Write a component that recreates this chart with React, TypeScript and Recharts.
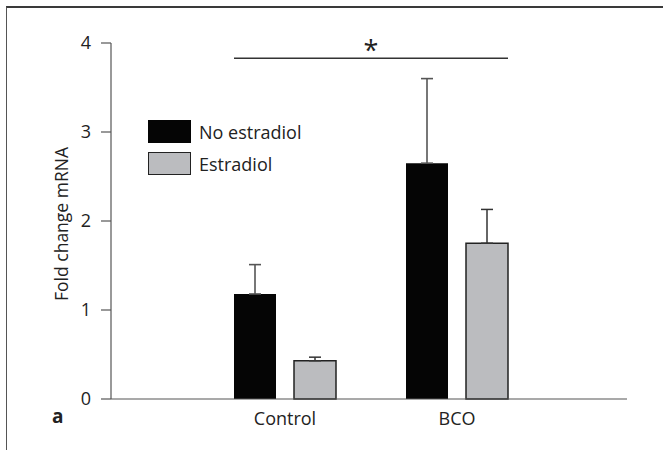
import { BarChart, Bar, XAxis, YAxis, ErrorBar, Legend, ReferenceLine, Label } from 'recharts';

const groups = ['Control', 'BCO'];
const noEstradiol = [1.18, 2.65];
const noEstradiolErr = [0.33, 0.95];
const estradiol = [0.43, 1.75];
const estradiolErr = [0.04, 0.38];
const yTicks = [0, 1, 2, 3, 4];
const seriesNames = ['No estradiol', 'Estradiol'];
const sigLevel = 3.83;
const sigMark = '*';
const panelLetter = 'a';
const yTitle = 'Fold change mRNA';

const data = groups.map((group, i) => ({
  group,
  noEst: noEstradiol[i],
  noEstErr: [0, noEstradiolErr[i]],
  est: estradiol[i],
  estErr: [0, estradiolErr[i]],
}));

// boundary ticks under the x axis: left edge, between groups, right edge
const frameTicks = [...groups.map((_, i) => i), groups.length];

const FONT = '"Open Sans", sans-serif';
const TEXT = '#222';
const AXIS = '#555';
const BAR_SIZE = 42;
const BAR_GAP = 18;

const seriesStyle = [
  { fill: '#050505', stroke: 'none' },
  { fill: '#bbbcbf', stroke: '#222' },
];

const renderLegend = () => (
  <div style={{ fontFamily: FONT }}>
    {seriesNames.map((name, i) => (
      <div key={name} style={{ display: 'flex', alignItems: 'center', height: 32 }}>
        <span
          style={{
            display: 'inline-block',
            width: 43,
            height: 23,
            boxSizing: 'border-box',
            background: seriesStyle[i].fill,
            border: seriesStyle[i].stroke === 'none' ? 'none' : `1.5px solid ${seriesStyle[i].stroke}`,
          }}
        />
        <span style={{ marginLeft: 8, fontSize: 18, color: TEXT }}>{name}</span>
      </div>
    ))}
  </div>
);

const halfGroup = BAR_SIZE + BAR_GAP / 2;

const SigBracket = (p: any) => {
  const x1 = p.x1 - halfGroup;
  const x2 = p.x2 + halfGroup;
  const mid = (p.x1 + p.x2) / 2;
  return (
    <g>
      <line x1={x1} y1={p.y1} x2={x2} y2={p.y2} stroke="#333" strokeWidth={1.5} />
      <text x={mid} y={p.y1 + 2} textAnchor="middle" fontSize={27} fontFamily={FONT} fill={TEXT}>
        {sigMark}
      </text>
    </g>
  );
};

const YTitle = (props: any) => {
  const vb = props.viewBox;
  const cx = 61;
  const cy = vb.y + vb.height / 2 + 3;
  return (
    <text
      x={cx}
      y={cy}
      transform={`rotate(-90 ${cx} ${cy})`}
      textAnchor="middle"
      dominantBaseline="central"
      fontSize={17.5}
      fontFamily={FONT}
      fill={TEXT}
    >
      {yTitle}
    </text>
  );
};

export default function App() {
  return (
    <div
      style={{
        position: 'absolute',
        left: 0,
        top: 0,
        width: 663,
        height: 450,
        overflow: 'hidden',
        background: '#fff',
        fontFamily: FONT,
      }}
    >
      <div
        style={{
          position: 'absolute',
          left: 6,
          top: 6,
          width: 700,
          height: 500,
          borderTop: '2px solid #3a3a3a',
          borderLeft: '1.5px solid #555',
        }}
      />
      <BarChart
        width={663}
        height={450}
        data={data}
        margin={{ top: 43, right: 36, bottom: 21, left: 0 }}
        barSize={BAR_SIZE}
        barGap={BAR_GAP}
        style={{ position: 'absolute', left: 0, top: 0 }}
      >
        <XAxis
          xAxisId="frame"
          type="number"
          domain={[0, groups.length]}
          allowDataOverflow
          ticks={frameTicks}
          tick={false}
          axisLine={false}
          tickLine={{ stroke: AXIS, strokeWidth: 1.2 }}
          tickSize={10}
          height={0}
        />
        <XAxis
          dataKey="group"
          padding={{ left: 88, right: 84 }}
          tickLine={false}
          tickSize={0}
          tickMargin={13}
          axisLine={{ stroke: AXIS, strokeWidth: 1.2 }}
          tick={{ fontSize: 18, fill: TEXT, fontFamily: FONT }}
          height={30}
        />
        <YAxis
          width={111}
          domain={[0, 4]}
          ticks={yTicks}
          tickSize={10}
          tickMargin={10}
          axisLine={{ stroke: AXIS, strokeWidth: 1.2 }}
          tickLine={{ stroke: AXIS, strokeWidth: 1.2 }}
          tick={{ fontSize: 18, fill: TEXT, fontFamily: FONT }}
        >
          <Label content={<YTitle />} />
        </YAxis>
        <Legend
          layout="vertical"
          align="center"
          verticalAlign="middle"
          content={renderLegend}
          wrapperStyle={{ left: 148, top: 115.5, width: 220 }}
        />
        <Bar
          dataKey="noEst"
          name={seriesNames[0]}
          fill={seriesStyle[0].fill}
          isAnimationActive={false}
        >
          <ErrorBar dataKey="noEstErr" direction="y" width={6} stroke="#555" strokeWidth={1.6} />
        </Bar>
        <Bar
          dataKey="est"
          name={seriesNames[1]}
          fill={seriesStyle[1].fill}
          stroke={seriesStyle[1].stroke}
          strokeWidth={1.5}
          isAnimationActive={false}
        >
          <ErrorBar dataKey="estErr" direction="y" width={6} stroke="#333" strokeWidth={1.5} />
        </Bar>
        <ReferenceLine
          segment={[
            { x: groups[0], y: sigLevel },
            { x: groups[groups.length - 1], y: sigLevel },
          ]}
          ifOverflow="visible"
          shape={<SigBracket />}
        />
      </BarChart>
      <div
        style={{
          position: 'absolute',
          left: 52,
          top: 407,
          fontSize: 19,
          lineHeight: 1,
          fontWeight: 'bold',
          color: TEXT,
          fontFamily: FONT,
        }}
      >
        {panelLetter}
      </div>
    </div>
  );
}
